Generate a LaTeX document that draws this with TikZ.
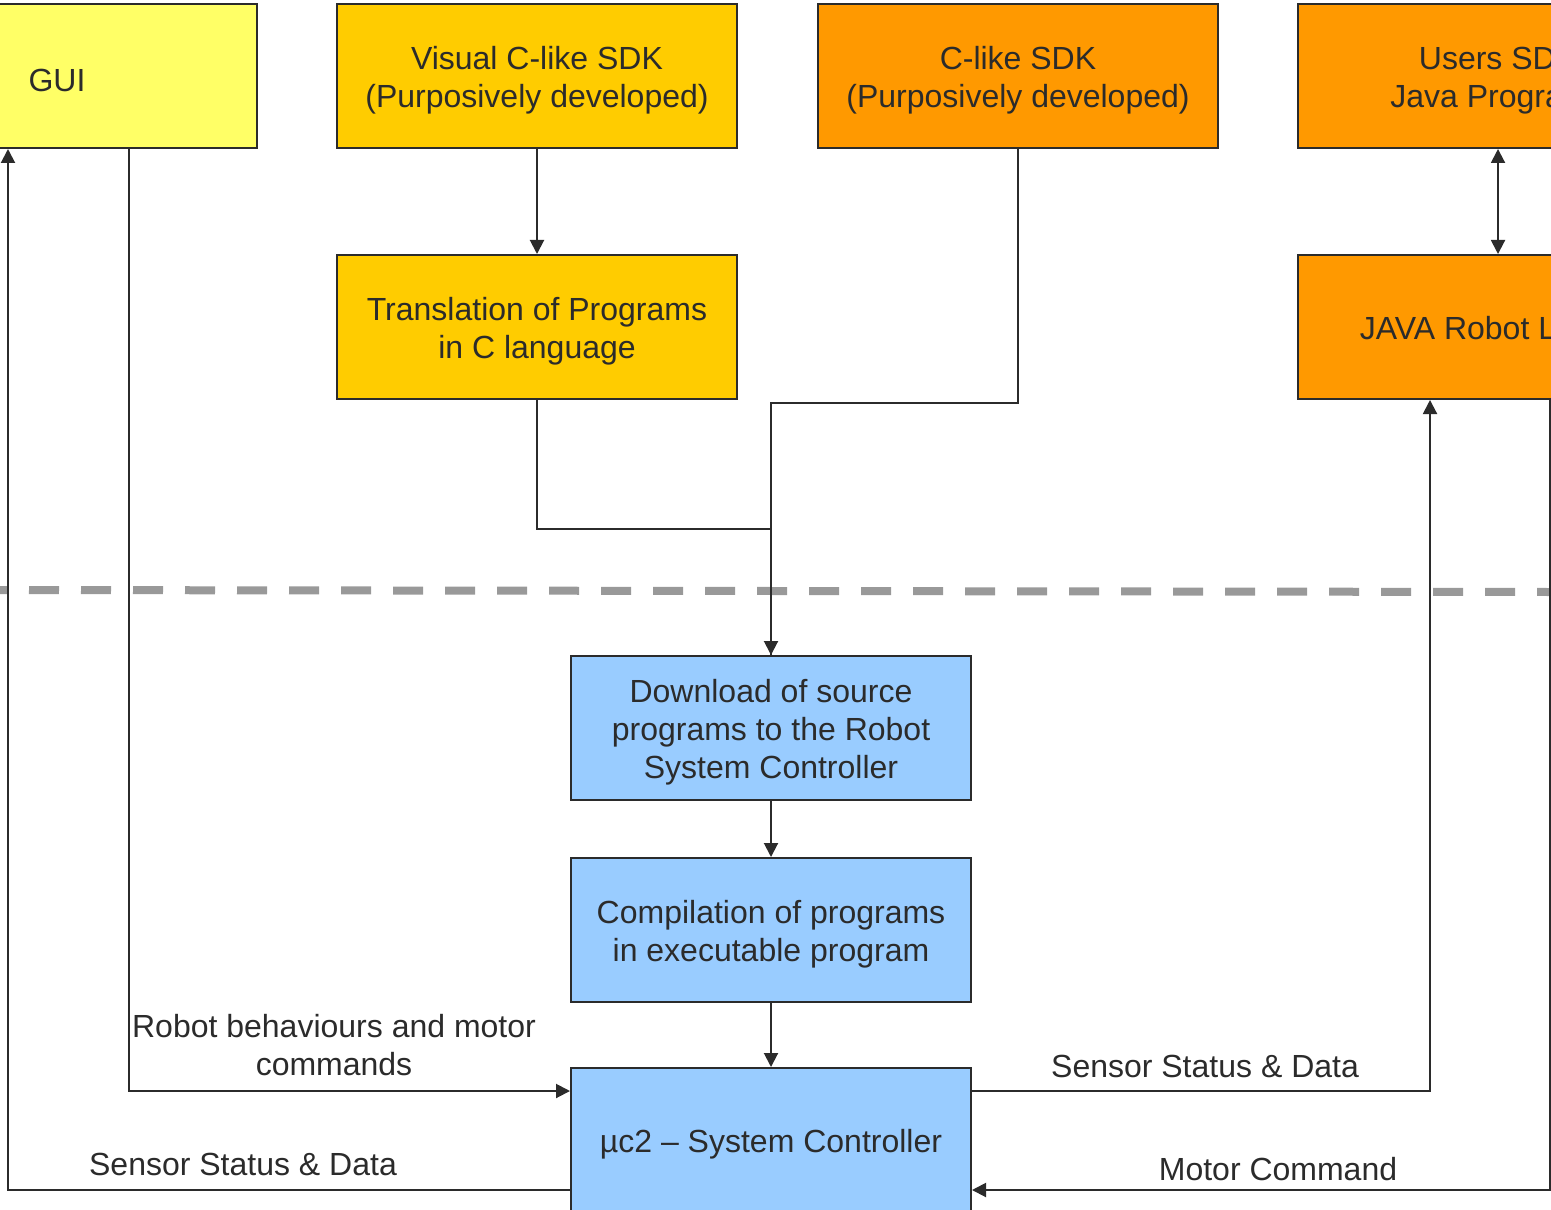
\documentclass[tikz,border=0pt]{standalone}
\usepackage{fontspec}
\setmainfont{Liberation Sans}
\usetikzlibrary{arrows.meta}
\definecolor{guiyellow}{HTML}{FFFF66}
\definecolor{sdkgold}{HTML}{FFCC00}
\definecolor{sdkorange}{HTML}{FF9900}
\definecolor{robotblue}{HTML}{99CCFF}
\definecolor{ink}{HTML}{2B2B2B}
\definecolor{divider}{HTML}{999999}
\newcommand\toppad{\rule{0pt}{15.5pt}}
\begin{document}
\begin{tikzpicture}[x=0.5pt, y=-0.5pt, every node/.style={font=\fontsize{16pt}{19pt}\selectfont, text=ink}, box/.style={draw=ink, line width=1pt, minimum width=200pt, minimum height=72pt, align=center}, conn/.style={draw=ink, line width=1pt}, lbl/.style={align=center}, >={Triangle[length=7pt,width=7pt]}]
	\path[use as bounding box, clip] (0,0) rectangle (1551,1209);
	\node[box, fill=guiyellow] (gui) at (57,76) {\toppad GUI};
	\node[box, fill=sdkgold] (visual) at (537,76) {\toppad Visual C-like SDK\\(Purposively developed)};
	\node[box, fill=sdkorange] (csdk) at (1018,76) {\toppad C-like SDK\\(Purposively developed)};
	\node[box, fill=sdkorange] (users) at (1498,76) {\toppad Users SDK\\Java Programs};
	\node[box, fill=sdkgold] (transl) at (537,327) {\toppad Translation of Programs\\in C language};
	\node[box, fill=sdkorange] (java) at (1498,327) {\toppad JAVA Robot Library};
	\node[box, fill=robotblue] (download) at (771,728) {\toppad Download of source\\programs to the Robot\\System Controller};
	\node[box, fill=robotblue] (compile) at (771,930) {\toppad Compilation of programs\\in executable program};
	\node[box, fill=robotblue] (uc2) at (771,1140) {\toppad µc2 – System Controller};
	\draw[divider, line width=4pt, dash pattern=on 15pt off 11pt, dash phase=11.5pt] (0,590) -- (1551,592);
	\draw[conn, ->] (visual) -- (transl);
	\draw[conn, <->] (users) -- (java);
	\draw[conn] (transl.south) -- ++(0,129) -| (download.north);
	\draw[conn, ->] (csdk.south) -- ++(0,254) -| (download.north);
	\draw[conn, ->] (download) -- (compile);
	\draw[conn, ->] (compile) -- (uc2);
	\draw[conn, ->] (gui.south -| 129,0) |- (uc2.west |- 0,1091);
	\draw[conn, ->] (uc2.west |- 0,1190) -| (gui.south -| 8,0);
	\draw[conn, ->] (uc2.east |- 0,1091) -| (java.south -| 1430,0);
	\draw[conn, ->] (java.south -| 1550,0) |- (uc2.east |- 0,1190);
	\node[lbl] (cmdlbl) at (334,1045) {Robot behaviours and motor\\commands};
	\node[lbl] (sensleft) at (243,1164) {Sensor Status \& Data};
	\node[lbl] (sensright) at (1205,1066) {Sensor Status \& Data};
	\node[lbl] (motorlbl) at (1278,1169) {Motor Command};
\end{tikzpicture}
\end{document}
